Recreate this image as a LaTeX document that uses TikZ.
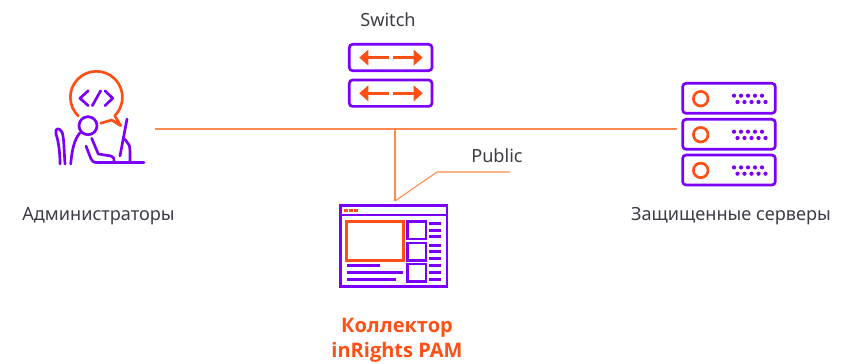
\documentclass[tikz,border=0pt]{standalone}
\usepackage{fontspec}
\setmainfont{Noto Sans}
\newfontfamily\ttlfont{Open Sans}[BoldFont={Open Sans Bold}]
\definecolor{pur}{HTML}{7A00FA}
\definecolor{org}{HTML}{FF4F14}
\definecolor{wirec}{HTML}{FF8A50}
\definecolor{txt}{HTML}{3C3C46}
\tikzset{
  lbl/.style={text=txt,font=\fontsize{13.6pt}{16pt}\selectfont,inner sep=0pt},
  ttl/.style={text=org,font=\ttlfont\fontsize{15pt}{18pt}\selectfont\bfseries,inner sep=0pt},
  pl/.style={draw=pur,line width=2pt,line cap=round,line join=round},
  ol/.style={draw=org,line width=2pt,line cap=round,line join=round},
  bx/.style={draw=pur,line width=2pt,rounded corners=2.5pt},
  wire/.style={draw=wirec,line width=.8pt},
  bar/.style={draw=pur,line width=2.2pt},
  arr/.style={draw=org,line width=2pt},
  tip/.style={fill=org,draw=none},
  dotp/.style={fill=pur,draw=none}
}
\begin{document}
\begin{tikzpicture}[x=.75pt,y=-.75pt]
\useasboundingbox (0,0) rectangle (846,364);
% connectors
\coordinate (adm) at (155,129);
\coordinate (srv) at (677,129);
\coordinate (junc) at (395,129);
\coordinate (coll) at (395,201);
\coordinate (bend) at (437,172);
\coordinate (pub) at (510,172);
\draw[wire] (adm) -- (srv);
\draw[wire] (junc) -- (coll);
\draw[wire] (coll) -- (bend) -- (pub);
% switch
\foreach \y in {44.3,80}{
  \draw[bx] (349.3,\y) rectangle (432,\y+26.4);
  \draw[arr] (366,\y+13.3) -- (389,\y+13.3);
  \draw[arr] (393.3,\y+13.3) -- (416,\y+13.3);
  \fill[tip] (359.3,\y+13.3) -- (368.3,\y+5.3) -- (368.3,\y+21.3) -- cycle;
  \fill[tip] (422.7,\y+13.3) -- (413.7,\y+5.3) -- (413.7,\y+21.3) -- cycle;
}
% admin
\draw[ol] (78.3,116) arc[start angle=134,end angle=405,radius=26] -- (120.7,125.7) -- (111.7,120) -- (100.7,123.3);
\draw[pl] (88.3,90.7) -- (80,98.3) -- (88.3,105.7);
\draw[pl] (100.7,90.7) -- (92.3,105.7);
\draw[pl] (105,90.7) -- (112.7,98.3) -- (105,105.7);
\draw[pl] (88,125.7) circle[radius=9];
\draw[pl] (60,164) .. controls (60,150) and (58,140) .. (56,134) .. controls (54.5,128) and (59,127) .. (62,132) .. controls (64,137) and (64,150) .. (65,164);
\draw[pl] (70.7,164) .. controls (72,150) and (74,140) .. (80,132.7);
\draw[pl] (91.7,138.3) -- (98.3,154) -- (111,156) .. controls (114,156.5) and (114.5,159) .. (114,162);
\draw[pl] (86,146) -- (91,159) .. controls (92,162) and (94,162.7) .. (100,162.7);
\draw[pl] (96.7,162.7) -- (144,162.7);
\draw[pl] (127,119) -- (120,156);
\draw[pl] (125,139.3) -- (129,145) .. controls (130,147) and (130,149) .. (130,162.7);
% collector
\draw[draw=pur,line width=2.1pt] (340.3,205.3) rectangle (447,286.7);
\draw[draw=pur,line width=2.1pt] (340.3,215) -- (447,215);
\foreach \x in {344,349,354}{\fill[org] (\x,209) rectangle (\x+4,212);}
\draw[draw=org,line width=2.2pt] (346.7,221.7) rectangle (403.3,260.7);
\foreach \y in {221.3,243,264}{\draw[draw=pur,line width=2.2pt] (407.7,\y) rectangle (426,\y+17.7);}
\foreach \y in {223.3,230.3,236.3,245.3,251.3,258.3,265.3,272.3,279.3}{\draw[bar] (429,\y) -- (441,\y);}
\draw[bar] (347,265.3) -- (380,265.3);
\draw[bar] (347,272.3) -- (403,272.3);
\draw[bar] (347,279.3) -- (396,279.3);
% servers
\foreach \y in {83.3,119.3,155}{
  \draw[bx] (682.7,\y) rectangle (775.3,\y+30);
  \draw[ol] (700.7,\y+15.4) circle[radius=7.3];
  \foreach \x in {0,...,4}{
    \fill[dotp] (734+\x*7,\y+12.4) circle[radius=2.1];
    \fill[dotp] (737.5+\x*7,\y+18.7) circle[radius=2.1];
  }
}
% labels
\node[lbl] (tsw) at (388,19.5) {Switch};
\node[lbl] (tpub) at (497,156) {Public};
\node[lbl] (tadm) at (98.5,216) {Администраторы};
\node[lbl] (tsrv) at (731,216) {Защищенные серверы};
\node[ttl] (tc1) at (397,328) {Коллектор};
\node[ttl] (tc2) at (397,352) {inRights PAM};
\end{tikzpicture}
\end{document}
